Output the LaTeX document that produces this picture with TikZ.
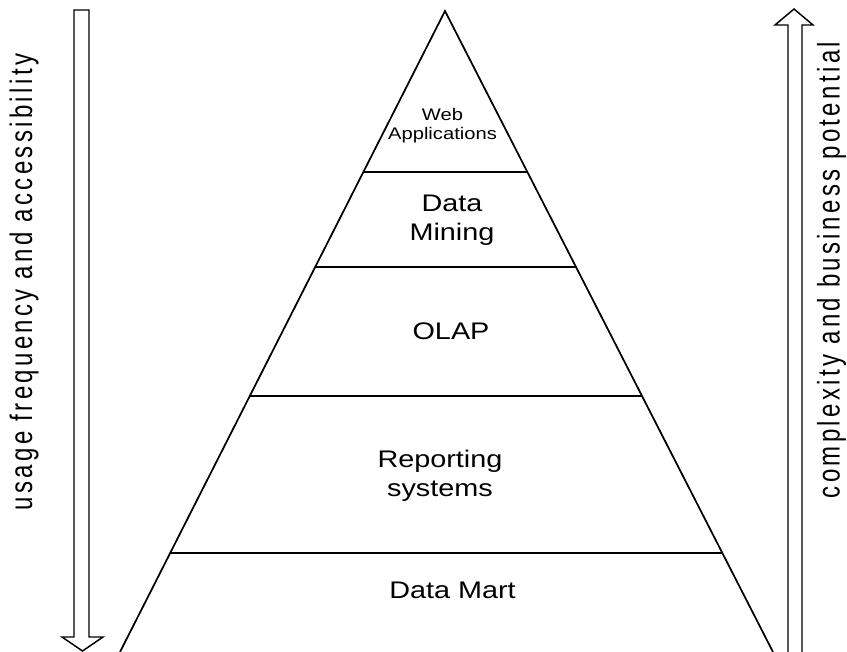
\documentclass[tikz,border=0pt]{standalone}
\usepackage{fontspec}
\setmainfont{Liberation Sans}
\newfontfamily\lblfont[FakeStretch=1.2]{Liberation Sans}
\newfontfamily\sidefont[LetterSpace=14]{Liberation Sans}
\usetikzlibrary{calc}
\begin{document}
\begin{tikzpicture}[x=0.75pt,y=-0.75pt,
  side/.style={line width=1.3pt, line join=miter},
  tier/.style={line width=1.6pt},
  bigarrow/.style={line width=1.1pt, line join=miter},
  lbl/.style={font=\lblfont\fontsize{18}{21.75}\selectfont, align=center, anchor=base, inner sep=0pt},
  smalllbl/.style={font=\lblfont\fontsize{12.6}{14.5}\selectfont, align=center, anchor=base, inner sep=0pt},
  sidetext/.style={font=\sidefont\fontsize{18}{22}\selectfont, rotate=90, anchor=base, inner sep=0pt}]
\useasboundingbox (0,0) rectangle (847,652);
\coordinate (apex) at (445,11);
\coordinate (bl) at (120,652);
\coordinate (br) at (773,652);
\draw[side] (bl) -- (apex) -- (br);
\draw[tier] ($(apex)!0.2512!(bl)$) -- ($(apex)!0.2512!(br)$);
\draw[tier] ($(apex)!0.3994!(bl)$) -- ($(apex)!0.3994!(br)$);
\draw[tier] ($(apex)!0.6006!(bl)$) -- ($(apex)!0.6006!(br)$);
\draw[tier] ($(apex)!0.8456!(bl)$) -- ($(apex)!0.8456!(br)$);
\node[smalllbl] (web) at (442.5,140) {Web\\Applications};
\node[lbl] (mining) at (452,241) {Data\\Mining};
\node[lbl] (olap) at (451,340) {OLAP};
\node[lbl] (reporting) at (440,496.7) {Reporting\\systems};
\node[lbl] (mart) at (452.5,598) {Data Mart};
\node[sidetext] (usage) at (32,282) {\scalebox{1}[1.3]{usage frequency and accessibility}};
\node[sidetext] (complexity) at (839.5,270) {\scalebox{1}[1.3]{complexity and business potential}};
\draw[bigarrow] (74,10) -- (89,10) -- (89,637) -- (103,637) -- (82.5,651) -- (62,637) -- (74,637) -- cycle;
\draw[bigarrow] (788,652) -- (788,25) -- (775,25) -- (794,9) -- (813,25) -- (802,25) -- (802,652);
\end{tikzpicture}
\end{document}
